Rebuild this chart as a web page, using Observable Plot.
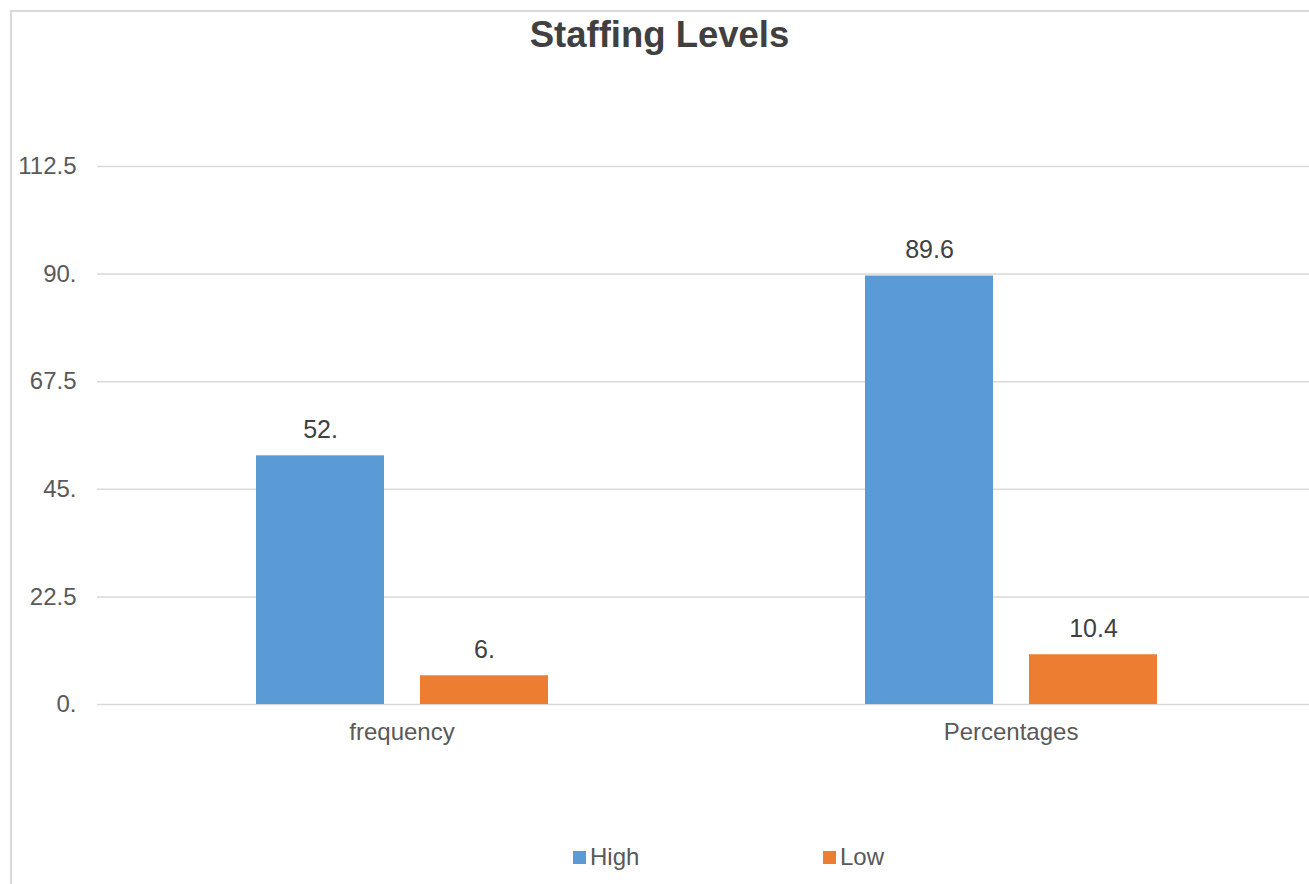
<!DOCTYPE html>
<html>
<head>
<meta charset="utf-8">
<script src="https://cdn.jsdelivr.net/npm/d3@7"></script>
<script src="https://cdn.jsdelivr.net/npm/@observablehq/plot@0.6"></script>
<style>
  body { margin: 0; background: #fff; font-family: "Liberation Sans", Arial, sans-serif; }
  #wrap { position: relative; width: 1309px; height: 884px; overflow: hidden; }
  #border { position: absolute; left: 10px; top: 10px; width: 1400px; height: 1000px; border: 2px solid #d9d9d9; box-sizing: border-box; }
  #title { position: absolute; left: 0; width: 1319px; top: 17px; text-align: center; font-size: 36.5px; line-height: 36px; font-weight: bold; color: #404040; }
  #chart { position: absolute; left: 0; top: 0; }
  .leg { position: absolute; top: 845px; font-size: 24px; line-height: 23px; color: #595959; display: flex; align-items: center; }
  .sw { display: inline-block; width: 13px; height: 13px; margin-right: 4px; margin-top: 2px; }
</style>
</head>
<body>
<div id="wrap">
  <div id="border"></div>
  <div id="title">Staffing Levels</div>
  <div id="chart"></div>
  <div id="legend"></div>
</div>
<script>
const categories = ["frequency", "Percentages"];
const series = ["High", "Low"];
const highValues = [52, 89.6];
const lowValues = [6, 10.4];
const valueLabels = { High: ["52.", "89.6"], Low: ["6.", "10.4"] };
const yTicks = [0, 22.5, 45, 67.5, 90, 112.5];
const yTickLabels = ["0.", "22.5", "45.", "67.5", "90.", "112.5"];
const colors = ["#5B9BD5", "#ED7D31"];

const data = [];
categories.forEach((c, i) => {
  data.push({category: c, series: "High", value: highValues[i], label: valueLabels.High[i]});
  data.push({category: c, series: "Low", value: lowValues[i], label: valueLabels.Low[i]});
});

const chart = Plot.plot({
  width: 1309,
  height: 884,
  marginLeft: 97,
  marginRight: -6,
  marginTop: 166,
  marginBottom: 180,
  style: { fontFamily: "Liberation Sans, Arial, sans-serif", background: "transparent" },
  fx: { domain: categories, padding: 0, label: null },
  x: { domain: series, paddingInner: 0.22, paddingOuter: 0.966, axis: null },
  y: { domain: [0, 112.5], label: null },
  color: { domain: series, range: colors },
  marks: [
    Plot.ruleY(yTicks, { stroke: "#d9d9d9", strokeWidth: 1.5, facetAnchor: null }),
    Plot.axisY({ ticks: yTicks, tickFormat: (d) => yTickLabels[yTicks.indexOf(d)], tickSize: 0, tickPadding: 21, fontSize: 24, fill: "#595959", label: null }),
    Plot.axisFx({ anchor: "bottom", tickSize: 0, tickPadding: 18, fontSize: 24, fill: "#595959", label: null }),
    Plot.barY(data, { fx: "category", x: "series", y: "value", fill: "series" }),
    Plot.text(data, { fx: "category", x: "series", y: "value", text: "label", lineAnchor: "bottom", dy: -18, fontSize: 25, fill: "#404040" })
  ]
});
document.getElementById("chart").appendChild(chart);

const legend = document.getElementById("legend");
const legX = [573, 823];
series.forEach((s, i) => {
  const d = document.createElement("div");
  d.className = "leg";
  d.style.left = legX[i] + "px";
  d.innerHTML = `<span class="sw" style="background:${colors[i]}"></span><span>${s}</span>`;
  legend.appendChild(d);
});
</script>
</body>
</html>
